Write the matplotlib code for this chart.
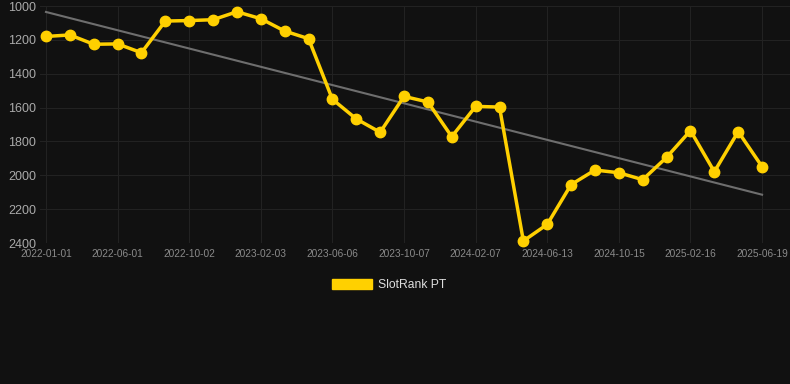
import matplotlib
matplotlib.use("Agg")
import matplotlib.pyplot as plt
import matplotlib.patches as mpatches
import numpy as np

# rank values, one point roughly every 50 days
ranks = [1180, 1171, 1226, 1224, 1276, 1089, 1086, 1081, 1034, 1075,
         1148, 1193, 1551, 1667, 1746, 1534, 1567, 1772, 1593, 1597,
         2388, 2290, 2055, 1969, 1985, 2026, 1894, 1736, 1979, 1742,
         1949]
tick_pos = [0, 3, 6, 9, 12, 15, 18, 21, 24, 27, 30]
tick_labels = ["2022-01-01", "2022-06-01", "2022-10-02", "2023-02-03",
               "2023-06-06", "2023-10-07", "2024-02-07", "2024-06-13",
               "2024-10-15", "2025-02-16", "2025-06-19"]
y_ticks = [1000, 1200, 1400, 1600, 1800, 2000, 2200, 2400]

bg = "#111111"
gold = "#FFD000"

plt.rcParams['font.family'] = ['Liberation Sans', 'DejaVu Sans']

fig = plt.figure(figsize=(7.9, 3.84), dpi=100, facecolor=bg)
ax = fig.add_axes([40 / 790, 1 - 243 / 384, 750 / 790, 237 / 384])
ax.set_facecolor(bg)

x = np.arange(len(ranks))

# trend line (least squares over the series)
k, b = np.polyfit(x, ranks, 1)
ax.plot([x[0], x[-1]], [k * x[0] + b, k * x[-1] + b], color="#6e6e6e", lw=1.5, zorder=2)

ax.plot(x, ranks, color=gold, lw=2.5, marker="o", ms=7.5, zorder=3, clip_on=False)

ax.set_xlim(-0.25, 31.17)
ax.set_ylim(2400, 1000)
ax.set_yticks(y_ticks)
ax.set_yticklabels([str(v) for v in y_ticks], fontsize=9, color="#aaaaaa")
ax.set_xticks(tick_pos)
ax.set_xticklabels(tick_labels, fontsize=7.3, color="#8a8a8a")
ax.tick_params(length=0, pad=4)
ax.tick_params(axis="y", pad=3)

ax.grid(True, color="#222222", lw=0.8, zorder=0)
for s in ax.spines.values():
    s.set_visible(False)

handle = mpatches.Patch(color=gold, label="SlotRank PT")
fig.legend(handles=[handle], loc="center", bbox_to_anchor=(389.5 / 790, 1 - 285 / 384),
           frameon=False, fontsize=8.7, labelcolor="#dddddd",
           handlelength=3.3, handleheight=0.95, handletextpad=0.5)

fig.savefig("out.png", dpi=100, facecolor=bg)
